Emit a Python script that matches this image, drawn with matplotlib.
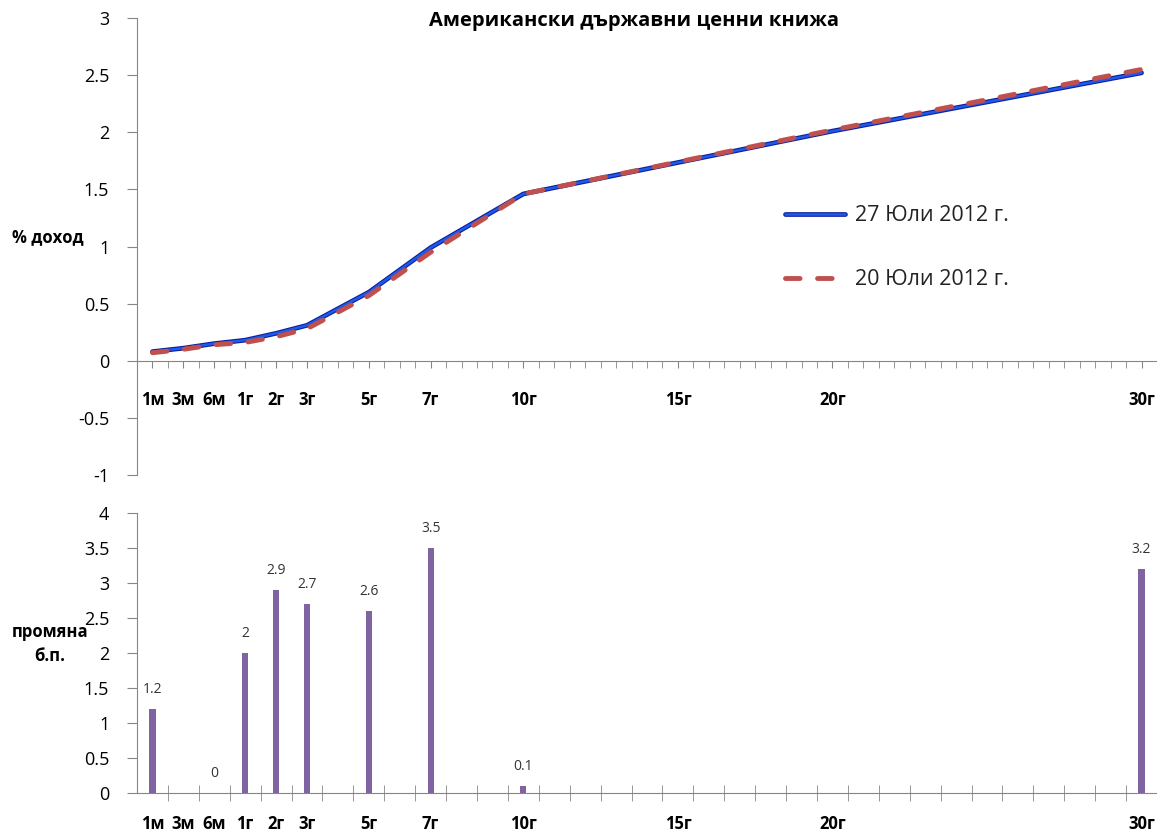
import numpy as np
import matplotlib
matplotlib.use("Agg")
import matplotlib.pyplot as plt
import matplotlib.patheffects as pe
from matplotlib.ticker import FixedLocator, MultipleLocator

plt.rcParams["font.family"] = ["Open Sans", "DejaVu Sans"]

# maturities on the category axis: 1м, 3м, 6м, then 1г .. 30г
tenors = ["1м", "3м", "6м"] + [f"{i}г" for i in range(1, 31)]
shown_labels = ["1м", "3м", "6м", "1г", "2г", "3г", "5г", "7г", "10г", "15г", "20г", "30г"]

# yield curves, % (quoted maturities only)
curve_tenors = ["1м", "3м", "6м", "1г", "2г", "3г", "5г", "7г", "10г", "20г", "30г"]
yield_jul27 = [0.08, 0.11, 0.15, 0.18, 0.24, 0.31, 0.60, 0.99, 1.46, 2.01, 2.52]
yield_jul20 = [0.07, 0.10, 0.14, 0.16, 0.21, 0.28, 0.57, 0.95, 1.46, 2.02, 2.55]

# weekly change, basis points
change_tenors = ["1м", "6м", "1г", "2г", "3г", "5г", "7г", "10г", "30г"]
change_bp = [1.2, 0, 2, 2.9, 2.7, 2.6, 3.5, 0.1, 3.2]

pos = {t: i for i, t in enumerate(tenors)}
curve_x = [pos[t] for t in curve_tenors]
change_x = [pos[t] for t in change_tenors]
label_x = [pos[t] for t in shown_labels]

W, H = 1157, 834
fig = plt.figure(figsize=(W / 100, H / 100), dpi=100)
ax_top = fig.add_axes([137 / W, 1 - 475 / H, 1 - 137 / W, (475 - 18) / H])
ax_bot = fig.add_axes([137 / W, 1 - 793 / H, 1 - 137 / W, (793 - 513) / H])

axis_grey = "#868686"

# --- yield curves ---
ax_top.plot(curve_x, yield_jul27, color="#1f5ae8", lw=1.8, zorder=3,
            solid_capstyle="round", label="27 Юли 2012 г.",
            path_effects=[pe.Stroke(linewidth=3.4, foreground="#0c1f9c"), pe.Normal()])
ax_top.plot(curve_x, yield_jul20, color="#c0504d", lw=3.5, zorder=4,
            dashes=(3.0, 3.6), dash_capstyle="round", label="20 Юли 2012 г.")

ax_top.set_xlim(-0.5, 32.5)
ax_top.set_ylim(-1, 3)
ax_top.yaxis.set_major_locator(MultipleLocator(0.5))
ax_top.yaxis.set_major_formatter(lambda v, p: f"{v:g}")
ax_top.spines[["top", "right"]].set_visible(False)
ax_top.spines["bottom"].set_position(("data", 0))
for s in ("left", "bottom"):
    ax_top.spines[s].set_color(axis_grey)
ax_top.xaxis.set_major_locator(FixedLocator(label_x))
ax_top.set_xticklabels(shown_labels, fontweight="bold", fontsize=12)
ax_top.xaxis.set_minor_locator(MultipleLocator(0.5))
ax_top.tick_params(axis="x", which="both", direction="out", length=5,
                   color=axis_grey, pad=17)
ax_top.tick_params(axis="y", direction="out", length=7, color=axis_grey,
                   labelsize=13, pad=13)

leg = ax_top.legend(loc="upper left", bbox_to_anchor=(0.635, 0.59), frameon=False,
                    fontsize=15.5, handlelength=2.8, handletextpad=0.45,
                    labelspacing=2.0, borderpad=0, borderaxespad=0)
for t in leg.get_texts():
    t.set_color("#222222")

# --- weekly change bars ---
ax_bot.bar(change_x, change_bp, width=0.2, color="#8064a2", zorder=3)
for x, v in zip(change_x, change_bp):
    ax_bot.annotate(f"{v:g}", (x, v), xytext=(0, 14), textcoords="offset points",
                    ha="center", va="center", fontsize=10, color="#333333")

ax_bot.set_xlim(-0.5, 32.5)
ax_bot.set_ylim(0, 4)
ax_bot.yaxis.set_major_locator(MultipleLocator(0.5))
ax_bot.yaxis.set_major_formatter(lambda v, p: f"{v:g}")
ax_bot.spines[["top", "right"]].set_visible(False)
for s in ("left", "bottom"):
    ax_bot.spines[s].set_color(axis_grey)
ax_bot.xaxis.set_major_locator(FixedLocator(label_x))
ax_bot.set_xticklabels(shown_labels, fontweight="bold", fontsize=12)
ax_bot.tick_params(axis="x", which="major", length=0, pad=16)
ax_bot.xaxis.set_minor_locator(FixedLocator(np.arange(0.5, 32, 1)))
ax_bot.tick_params(axis="x", which="minor", direction="inout", length=11,
                   color=axis_grey)
ax_bot.tick_params(axis="y", direction="out", length=7, color=axis_grey,
                   labelsize=13, pad=13)

# --- titles and axis captions ---
fig.text(634 / W, 1 - 21 / H, "Американски държавни ценни книжа",
         ha="center", va="center", fontsize=14.5, fontweight="bold")
fig.text(48 / W, 1 - 237 / H, "% доход", ha="center", va="center",
         fontsize=12, fontweight="bold")
fig.text(50 / W, 1 - 644 / H, "промяна\nб.п.", ha="center", va="center",
         fontsize=12, fontweight="bold", linespacing=1.4)

fig.savefig("out.png", dpi=100)
